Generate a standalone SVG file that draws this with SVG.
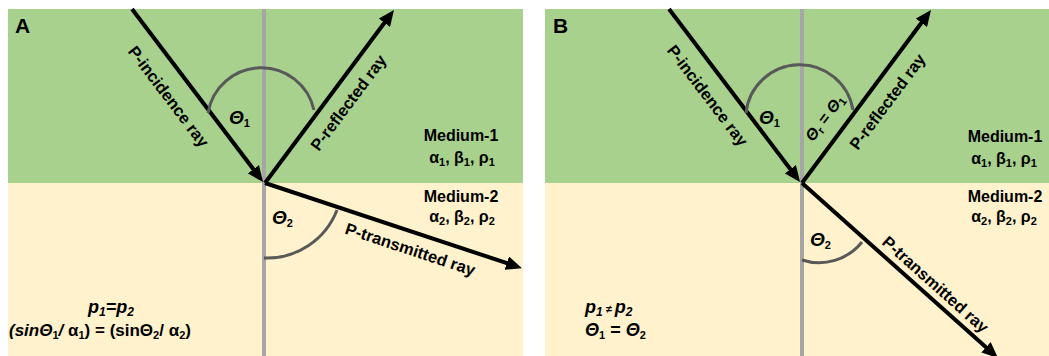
<svg xmlns="http://www.w3.org/2000/svg" width="1049" height="356" viewBox="0 0 1049 356">
<style>
text{font-family:"Liberation Sans","DejaVu Sans",sans-serif;font-weight:bold;fill:#000}
.lbl{font-size:16.5px}
.med{font-size:16px}
.th{font-size:19px;font-style:italic}
.sub{font-size:11px;font-style:normal}
.ray{stroke:#000;stroke-width:4;fill:none;marker-end:url(#ah)}
.nrm{stroke:#A6A6A6;stroke-width:4}
.arc{stroke:#595959;stroke-width:3;fill:none}
</style>
<defs>
<marker id="ah" markerUnits="userSpaceOnUse" viewBox="0 0 16 14" markerWidth="16" markerHeight="14" refX="6" refY="7" orient="auto">
<path d="M0,0 L16,7 L0,14 z" fill="#000"/>
</marker>
</defs>
<rect width="1049" height="356" fill="#fff"/>
<g id="panelA">
<rect x="8" y="9" width="515" height="174" fill="#A9D18E"/>
<rect x="8" y="183" width="515" height="173" fill="#FFF2CC"/>
<line class="nrm" x1="264" y1="9" x2="264" y2="356"/>
<text x="15" y="33" style="font-size:21px">A</text>
</g>
<g id="panelB">
<rect x="545" y="9" width="504" height="174" fill="#A9D18E"/>
<rect x="545" y="183" width="504" height="173" fill="#FFF2CC"/>
<line class="nrm" x1="802" y1="9" x2="802" y2="356"/>
<text x="553" y="33" style="font-size:21px">B</text>
</g>
<g id="connectors">
<line class="ray" x1="132" y1="9" x2="257" y2="174"/>
<line class="ray" x1="265" y1="183" x2="388" y2="18"/>
<line class="ray" x1="265" y1="183" x2="512.5" y2="265"/>
<line class="ray" x1="669" y1="9" x2="794" y2="174"/>
<line class="ray" x1="802" y1="183" x2="925" y2="18"/>
<line class="ray" x1="802" y1="183" x2="990.5" y2="351.3"/>
<path class="arc" d="M208,113 A54,54 0 0 1 314,110"/>
<path class="arc" d="M264,258 A75,75 0 0 0 337,210"/>
<path class="arc" d="M746,113 A54,54 0 0 1 853,110"/>
<path class="arc" d="M802,260 A55,55 0 0 0 862,242"/>
</g>
<g id="labelsA">
<text class="lbl" text-anchor="middle" dy="5" transform="translate(168,97) rotate(52.9)">P-incidence ray</text>
<text class="lbl" text-anchor="middle" dy="5" transform="translate(349,103) rotate(-53.3)">P-reflected ray</text>
<text class="lbl" text-anchor="middle" dy="5" transform="translate(410,250) rotate(18.3)">P-transmitted ray</text>
<text class="th" x="229" y="124">Θ<tspan class="sub" dy="3">1</tspan></text>
<text class="th" x="272" y="224">Θ<tspan class="sub" dy="3">2</tspan></text>
<text class="med" x="461" y="141" text-anchor="middle">Medium-1</text>
<text class="med" x="462" y="163" text-anchor="middle">α<tspan class="sub" dy="3">1</tspan><tspan dy="-3">, β</tspan><tspan class="sub" dy="3">1</tspan><tspan dy="-3">, ρ</tspan><tspan class="sub" dy="3">1</tspan></text>
<text class="med" x="461" y="202" text-anchor="middle">Medium-2</text>
<text class="med" x="462" y="222" text-anchor="middle">α<tspan class="sub" dy="3">2</tspan><tspan dy="-3">, β</tspan><tspan class="sub" dy="3">2</tspan><tspan dy="-3">, ρ</tspan><tspan class="sub" dy="3">2</tspan></text>
<text x="111" y="313" text-anchor="middle" style="font-size:18px;font-style:italic">p<tspan style="font-size:12px" dy="3">1</tspan><tspan dy="-3">=p</tspan><tspan style="font-size:12px" dy="3">2</tspan></text>
<text x="9" y="336" style="font-size:17px"><tspan font-style="italic">(sinΘ</tspan><tspan class="sub" dy="3">1</tspan><tspan dy="-3" font-style="italic">/ </tspan><tspan>α</tspan><tspan class="sub" dy="3">1</tspan><tspan dy="-3">) = (sinΘ</tspan><tspan class="sub" dy="3">2</tspan><tspan dy="-3">/ α</tspan><tspan class="sub" dy="3">2</tspan><tspan dy="-3">)</tspan></text>
</g>
<g id="labelsB">
<text class="lbl" text-anchor="middle" dy="5" transform="translate(707,96) rotate(52.9)">P-incidence ray</text>
<text class="lbl" text-anchor="middle" dy="5" transform="translate(888,102) rotate(-53.3)">P-reflected ray</text>
<text class="lbl" text-anchor="middle" dy="5" transform="translate(935,285) rotate(41.7)">P-transmitted ray</text>
<text style="font-size:16px" text-anchor="middle" dy="5" transform="translate(825,118) rotate(-53.3)"><tspan font-style="italic">Θ</tspan><tspan class="sub" dy="3">r</tspan><tspan dy="-3"> = </tspan><tspan font-style="italic">Θ</tspan><tspan class="sub" dy="3">1</tspan></text>
<text class="th" x="759" y="124">Θ<tspan class="sub" dy="3">1</tspan></text>
<text class="th" x="810" y="246">Θ<tspan class="sub" dy="3">2</tspan></text>
<text class="med" x="1005" y="142" text-anchor="middle">Medium-1</text>
<text class="med" x="1004" y="164" text-anchor="middle">α<tspan class="sub" dy="3">1</tspan><tspan dy="-3">, β</tspan><tspan class="sub" dy="3">1</tspan><tspan dy="-3">, ρ</tspan><tspan class="sub" dy="3">1</tspan></text>
<text class="med" x="1005" y="202" text-anchor="middle">Medium-2</text>
<text class="med" x="1004" y="222" text-anchor="middle">α<tspan class="sub" dy="3">2</tspan><tspan dy="-3">, β</tspan><tspan class="sub" dy="3">2</tspan><tspan dy="-3">, ρ</tspan><tspan class="sub" dy="3">2</tspan></text>
<text x="585" y="313" style="font-size:18px;font-style:italic">p<tspan style="font-size:12px" dy="3">1</tspan><tspan style="font-size:11px" dy="-3"> ≠ </tspan><tspan>p</tspan><tspan style="font-size:12px" dy="3">2</tspan></text>
<text x="585" y="336" style="font-size:18px;font-style:italic">Θ<tspan class="sub" dy="3">1</tspan><tspan dy="-3" font-style="normal"> = </tspan>Θ<tspan class="sub" dy="3">2</tspan></text>
</g>
</svg>
